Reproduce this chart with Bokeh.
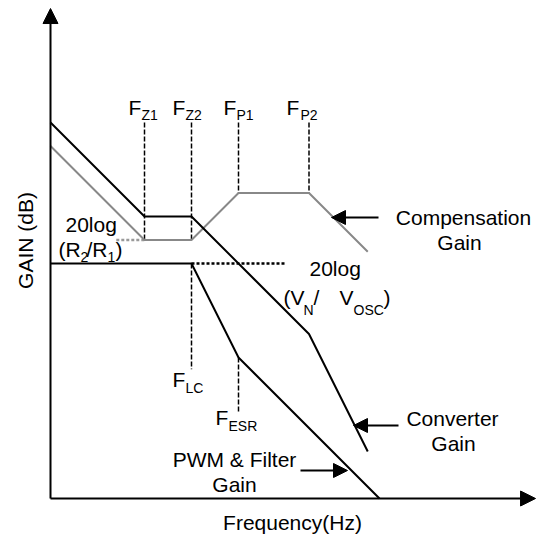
from math import pi
from bokeh.plotting import figure
from bokeh.models import Range1d, Arrow, NormalHead
from bokeh.core.properties import value
from bokeh.embed import file_html
from bokeh.resources import INLINE

# ---- data: asymptotic Bode magnitude curves (frequency in decades, gain in dB)
conv_f = [0, 2, 3, 5.5, 6.75]
conv_g = [160, 120, 120, 70, 20]
comp_f = [0, 2, 3, 4, 5.5, 6.75]
comp_g = [150, 110, 110, 130, 130, 105]
pwm_f = [0, 3, 4, 7]
pwm_g = [100, 100, 60, 0]
vin_ext_f = [3, 5]
vin_ext_g = [100, 100]
r2r1_ext_f = [1.4, 2]
r2r1_ext_g = [110, 110]
marker_names = ["Z1", "Z2", "P1", "P2"]
marker_f = [2, 3, 4, 5.5]
marker_bottom = [110, 110, 130, 130]
marker_top = 160
lc_f, lc_top, lc_bottom = 3, 100, 55
esr_f, esr_top, esr_bottom = 4, 60, 37
axis_top = 208.5
axis_right = 10.32

FONT = "Liberation Sans"
W, H = 536, 537
PX_DEC, PX_DB = 47.0, 2.35
OX, OY = 50.0, 498.0  # pixel position of the origin

p = figure(width=W, height=H, output_backend="svg", toolbar_location=None,
           x_range=Range1d(-OX / PX_DEC, (W - OX) / PX_DEC),
           y_range=Range1d((OY - H) / PX_DB, OY / PX_DB),
           x_axis_type=None, y_axis_type=None, title=None,
           min_border=0, outline_line_color=None)
p.grid.visible = False
p.background_fill_color = "white"
p.border_fill_color = "white"


def X(px):  # pixel -> decades
    return (px - OX) / PX_DEC


def Y(py):  # pixel -> dB
    return (OY - py) / PX_DB


def txt(px, py, s, size=21, align="left", angle=0.0):
    # anchor given as the text baseline; drawn with a middle baseline
    p.text(x=[X(px)], y=[Y(py - 0.36 * size)], text=[s], text_font=value(FONT),
           text_font_size=value(f"{size}px"), text_align=align,
           text_baseline="middle", angle=angle, text_color="black")


# axes with arrow heads
p.add_layout(Arrow(end=NormalHead(size=15, fill_color="black", line_color="black"),
                   x_start=0, y_start=0, x_end=0, y_end=axis_top,
                   line_width=2, line_color="black"))
p.add_layout(Arrow(end=NormalHead(size=15, fill_color="black", line_color="black"),
                   x_start=0, y_start=0, x_end=axis_right, y_end=0,
                   line_width=2, line_color="black"))

# dashed corner markers
for f, b in zip(marker_f, marker_bottom):
    p.line([f, f], [marker_top, b], line_color="black", line_width=1.5, line_dash="5 2")
p.line([lc_f, lc_f], [lc_top, lc_bottom], line_color="black", line_width=1.5, line_dash="5 2")
p.line([esr_f, esr_f], [esr_top, esr_bottom], line_color="black", line_width=1.5, line_dash="5 2")

# dotted extensions
p.line(vin_ext_f, vin_ext_g, line_color="black", line_width=2.5, line_dash="3 2")
p.line(r2r1_ext_f, r2r1_ext_g, line_color="#999999", line_width=2.5, line_dash="3 2")

# curves
p.line(comp_f, comp_g, line_color="#888888", line_width=2)
p.line(pwm_f, pwm_g, line_color="black", line_width=2)
p.line(conv_f, conv_g, line_color="black", line_width=2)

# corner frequency labels
for name, fx, sx in zip(marker_names, [128, 172, 223, 286], [141, 185, 236, 300]):
    txt(fx, 115, "F")
    txt(sx, 120, name, size=14)
txt(172, 387, "F")
txt(185, 393, "LC", size=14)
txt(215, 425, "F")
txt(228, 431, "ESR", size=14)

# 20log(R2/R1)
txt(65, 232, "20log")
txt(58, 257, "(R")
txt(80, 262, "2", size=14)
txt(86, 257, "/R")
txt(107, 262, "1", size=14)
txt(115, 257, ")")

# 20log(VIN/VOSC)
txt(309, 276, "20log")
txt(283, 305, "(V")
txt(303, 315, "N", size=14)
txt(313, 305, "/")
txt(339, 305, "V")
txt(353, 315, "OSC", size=14)
txt(383, 305, ")")

# curve names
txt(463, 225, "Compensation", align="center")
txt(459, 250, "Gain", align="center")
txt(452, 426, "Converter", align="center")
txt(453, 451, "Gain", align="center")
txt(234, 467, "PWM & Filter", align="center")
txt(234, 492, "Gain", align="center")

# pointer arrows
for (x0, y0, x1, y1) in [(378, 217, 331, 217), (398, 425, 353, 425), (300, 470, 347, 470)]:
    p.add_layout(Arrow(end=NormalHead(size=14, fill_color="black", line_color="black"),
                       x_start=X(x0), y_start=Y(y0), x_end=X(x1), y_end=Y(y1),
                       line_width=2, line_color="black"))

# axis titles
txt(292, 530, "Frequency(Hz)", align="center")
p.text(x=[X(25)], y=[Y(240)], text=["GAIN (dB)"], text_font=value(FONT),
       text_font_size=value("21px"), text_align="center", text_baseline="middle",
       angle=pi / 2, text_color="black")

open("out.html", "w").write(file_html(p, INLINE))
